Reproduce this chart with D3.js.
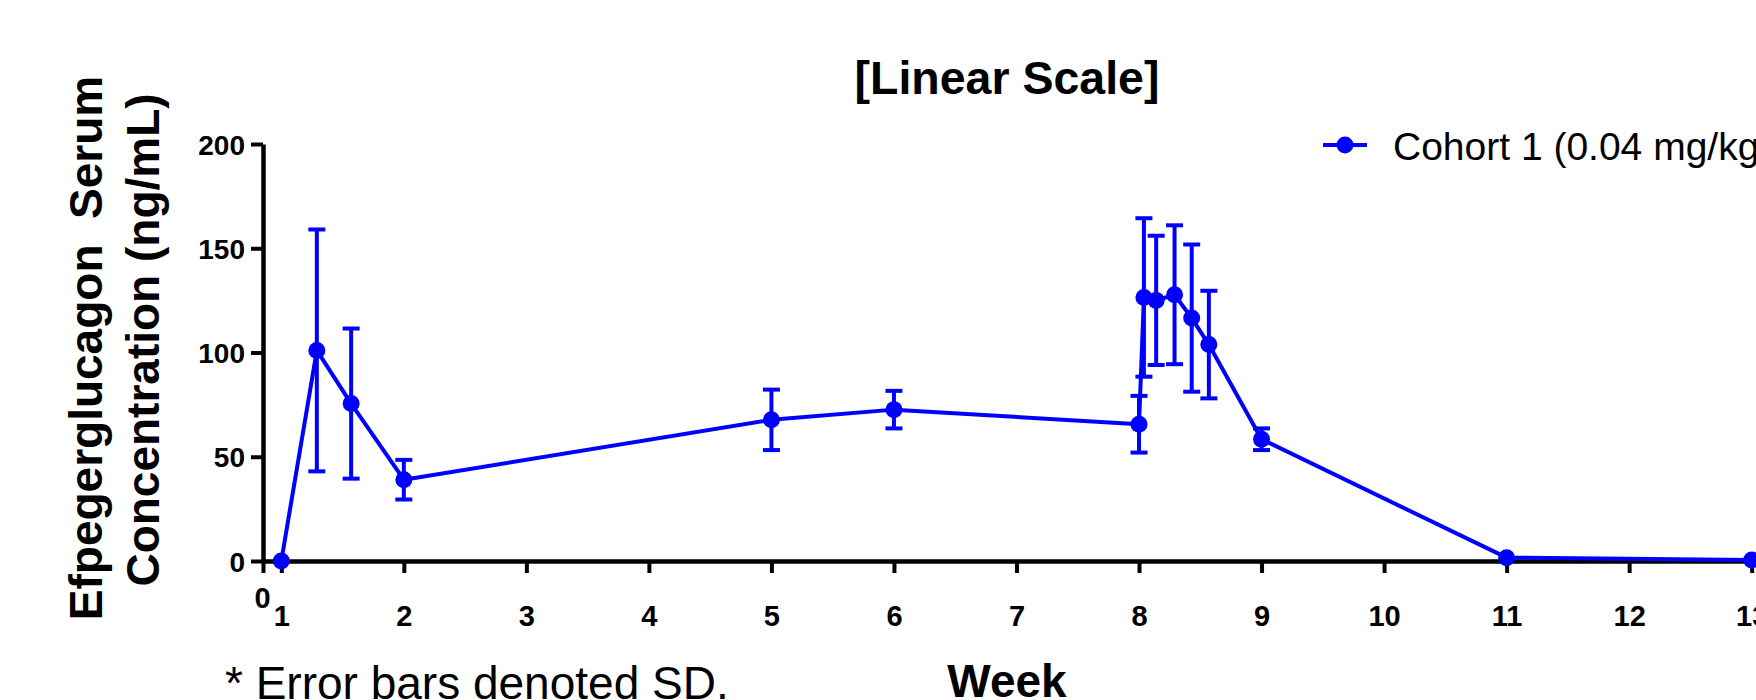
<!DOCTYPE html>
<html>
<head>
<meta charset="utf-8">
<script src="https://cdn.jsdelivr.net/npm/d3@7"></script>
<style>
  body { margin: 0; background: #fff; }
  svg { display: block; font-family: "Liberation Sans", Arial, Helvetica, sans-serif; }
</style>
</head>
<body>
<div id="chart"></div>
<script>
// Cohort 1 mean serum concentration (ng/mL) by week
const weeks = [1, 1.29, 1.57, 2, 5, 6, 8, 8.04, 8.14, 8.29, 8.43, 8.57, 9, 11, 13];
const conc  = [0, 101, 75.5, 39, 67.7, 72.6, 65.6, 126.4, 125, 127.7, 116.5, 103.8, 58.4, 1.6, 0.5];
const sd    = [0, 58, 36, 9.5, 14.5, 9, 13.6, 38, 31, 33.3, 35.3, 25.8, 5.2, 0, 0];

const xTicks = [0, 1, 2, 3, 4, 5, 6, 7, 8, 9, 10, 11, 12, 13];
const yTicks = [0, 50, 100, 150, 200];
const seriesName = "Cohort 1 (0.04 mg/kg)";

const width = 1756, height = 700;
const blue = "#0000ff";

// axis origin sits a little left of week 1, then weeks are evenly spaced
const x = d3.scaleLinear()
            .domain([0, 1, 13.05])
            .range([263, 281.3, 1757.8]);

const y = d3.scaleLinear()
            .domain([0, 200])
            .range([561, 144]);

const svg = d3.select("#chart")
              .append("svg")
              .attr("width", width)
              .attr("height", height);

// X axis
const xAxis = svg.append("g")
   .attr("transform", "translate(0," + y(0) + ")")
   .call(d3.axisBottom(x)
           .tickValues(xTicks)
           .tickSize(12)
           .tickSizeOuter(0)
           .tickPadding(32));

// Y axis
const yAxis = svg.append("g")
   .attr("transform", "translate(" + x(0) + ",0)")
   .call(d3.axisLeft(y)
           .tickValues(yTicks)
           .tickSize(12)
           .tickSizeOuter(0)
           .tickPadding(6));

svg.selectAll(".domain").attr("stroke", "#000").attr("stroke-width", 4.5);
svg.selectAll(".tick line").attr("stroke", "#000").attr("stroke-width", 4);
svg.selectAll(".tick text")
   .attr("fill", "#000")
   .style("font-size", "28px")
   .style("font-weight", "bold")
   .style("font-family", "'Liberation Sans', Arial, sans-serif");

xAxis.selectAll(".tick text").style("font-size", "29px");
xAxis.selectAll(".tick")
     .filter(d => d === 0)
     .select("text")
     .attr("y", 26)
     .attr("x", -1);
yAxis.selectAll("text").attr("dy", "0.36em");

// series line
svg.append("path")
   .datum(weeks.map((w, i) => [w, conc[i]]))
   .attr("fill", "none")
   .attr("stroke", blue)
   .attr("stroke-width", 4)
   .attr("stroke-linejoin", "round")
   .attr("d", d3.line()
                .x(d => x(d[0]))
                .y(d => y(d[1])));

// error bars (SD)
const bars = weeks.map((w, i) => ({ w: w, m: conc[i], s: sd[i] })).filter(d => d.s > 0);
const eb = svg.selectAll(".eb")
              .data(bars)
            .enter().append("g")
              .attr("class", "eb")
              .attr("stroke", blue)
              .attr("stroke-width", 4);

eb.append("line")
  .attr("x1", d => x(d.w)).attr("x2", d => x(d.w))
  .attr("y1", d => y(d.m + d.s)).attr("y2", d => y(d.m - d.s));
eb.append("line")
  .attr("x1", d => x(d.w) - 8.5).attr("x2", d => x(d.w) + 8.5)
  .attr("y1", d => y(d.m + d.s)).attr("y2", d => y(d.m + d.s));
eb.append("line")
  .attr("x1", d => x(d.w) - 8.5).attr("x2", d => x(d.w) + 8.5)
  .attr("y1", d => y(d.m - d.s)).attr("y2", d => y(d.m - d.s));

// markers
svg.selectAll(".dot")
   .data(weeks)
 .enter().append("circle")
   .attr("class", "dot")
   .attr("cx", d => x(d))
   .attr("cy", (d, i) => y(conc[i]))
   .attr("r", 8.5)
   .attr("fill", blue);

// legend
const lg = svg.append("g").attr("transform", "translate(1323,145)");
lg.append("line").attr("x1", 0).attr("x2", 44).attr("y1", 0).attr("y2", 0)
  .attr("stroke", blue).attr("stroke-width", 4);
lg.append("circle").attr("cx", 22).attr("cy", 0).attr("r", 8.5).attr("fill", blue);
lg.append("text")
  .attr("x", 70).attr("y", 15)
  .style("font-size", "39px")
  .text(seriesName);

// title
svg.append("text")
   .attr("x", 1007)
   .attr("y", 94)
   .style("text-anchor", "middle")
   .style("font-size", "46.5px")
   .style("font-weight", "bold")
   .text("[Linear Scale]");

// y axis label, two lines
svg.append("text")
   .attr("transform", "translate(102,348) rotate(-90)")
   .style("text-anchor", "middle")
   .style("font-size", "46px")
   .style("font-weight", "bold")
   .style("white-space", "pre")
   .text("Efpegerglucagon  Serum");

svg.append("text")
   .attr("transform", "translate(159,340) rotate(-90)")
   .style("text-anchor", "middle")
   .style("font-size", "46px")
   .style("font-weight", "bold")
   .text("Concentration (ng/mL)");

// x axis label
svg.append("text")
   .attr("x", 1007)
   .attr("y", 697)
   .style("text-anchor", "middle")
   .style("font-size", "46px")
   .style("font-weight", "bold")
   .text("Week");

// footnote
svg.append("text")
   .attr("x", 225)
   .attr("y", 699)
   .style("font-size", "46px")
   .text("* Error bars denoted SD.");
</script>
</body>
</html>
